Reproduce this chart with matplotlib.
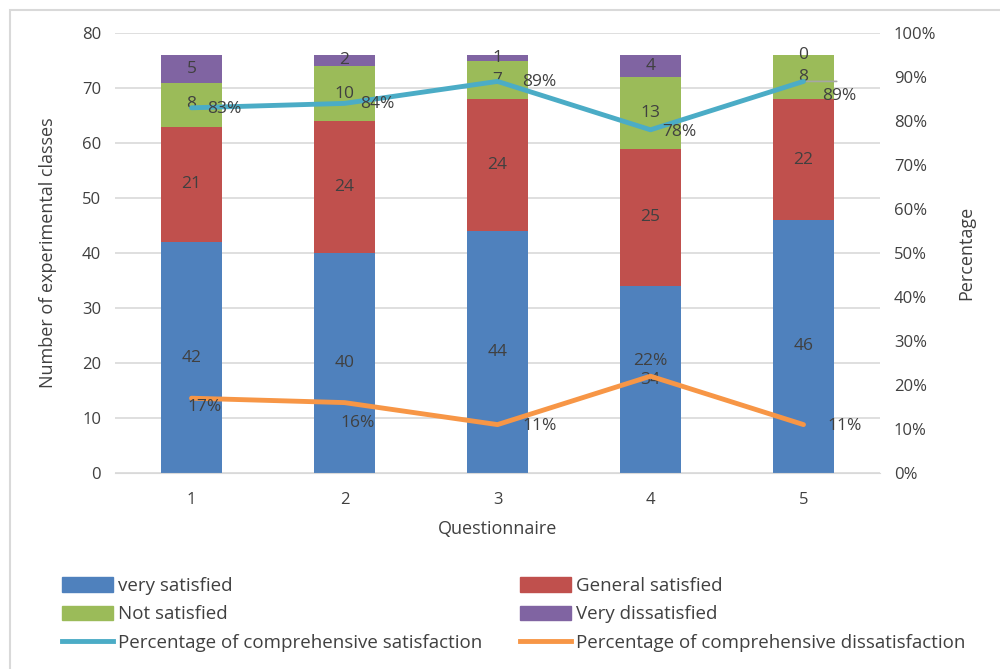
import matplotlib
matplotlib.use("Agg")
import matplotlib.pyplot as plt
from matplotlib.patches import Rectangle
from matplotlib.lines import Line2D
from matplotlib.ticker import FuncFormatter

plt.rcParams['font.family'] = ['Open Sans', 'DejaVu Sans']

questionnaires = ["1", "2", "3", "4", "5"]
very_satisfied = [42, 40, 44, 34, 46]
general_satisfied = [21, 24, 24, 25, 22]
not_satisfied = [8, 10, 7, 13, 8]
very_dissatisfied = [5, 2, 1, 4, 0]
pct_satisfaction = [83, 84, 89, 78, 89]
pct_dissatisfaction = [17, 16, 11, 22, 11]

left_ticks = [0, 10, 20, 30, 40, 50, 60, 70, 80]
right_ticks = [0, 10, 20, 30, 40, 50, 60, 70, 80, 90, 100]

C_BLUE = "#4F81BD"
C_RED = "#C0504D"
C_GREEN = "#9BBB59"
C_PURPLE = "#8064A2"
C_CYAN = "#4BACC6"
C_ORANGE = "#F79646"
TXT = "#404040"

fig = plt.figure(figsize=(10, 6.69), dpi=100)
ax = fig.add_axes([0.115, 1 - 473 / 669, 0.765, 440 / 669])
ax2 = ax.twinx()

x = list(range(1, len(questionnaires) + 1))
w = 0.4
series = [(very_satisfied, C_BLUE, "very satisfied"),
          (general_satisfied, C_RED, "General satisfied"),
          (not_satisfied, C_GREEN, "Not satisfied"),
          (very_dissatisfied, C_PURPLE, "Very dissatisfied")]
bottom = [0] * len(x)
for vals, col, lab in series:
    ax.bar(x, vals, w, bottom=bottom, color=col, label=lab, zorder=2)
    for xi, b, v in zip(x, bottom, vals):
        ax.text(xi, b + v / 2, str(v), ha="center", va="center", fontsize=12.5, color=TXT, zorder=5)
    bottom = [b + v for b, v in zip(bottom, vals)]

ax.set_xlim(0.5, 5.5)
ax.set_ylim(0, 80)
ax.set_yticks(left_ticks)
ax.set_xticks(x)
ax.set_xticklabels(questionnaires)
ax.grid(axis="y", color="#D9D9D9", linewidth=1.2, zorder=0)
ax.set_axisbelow(True)
for s in ["top", "right", "left"]:
    ax.spines[s].set_visible(False)
ax.spines["bottom"].set_color("#D9D9D9")
ax.tick_params(axis="both", length=0, labelsize=12, colors=TXT, pad=10)
ax.tick_params(axis="x", pad=14)
ax.set_ylabel("Number of experimental classes", fontsize=13, color=TXT, labelpad=18)
ax.set_xlabel("Questionnaire", fontsize=13, color=TXT, labelpad=8)

ax2.set_ylim(0, 100)
ax2.set_yticks(right_ticks)
ax2.yaxis.set_major_formatter(FuncFormatter(lambda v, p: f"{int(v)}%"))
for s in ["top", "right", "left", "bottom"]:
    ax2.spines[s].set_visible(False)
ax2.tick_params(axis="y", length=0, labelsize=12, colors=TXT, pad=10)
ax2.set_ylabel("Percentage", fontsize=13, color=TXT, labelpad=15)

ax2.plot(x, pct_satisfaction, color=C_CYAN, linewidth=3.5, zorder=4, solid_capstyle="round")
ax2.plot(x, pct_dissatisfaction, color=C_ORANGE, linewidth=3.5, zorder=4, solid_capstyle="round")

sat_offsets = [(33, -1), (33, -1), (42, -1), (29, -2), (36, -15)]
dis_offsets = [(13, -9), (13, -20), (42, -1), (0, 15), (41, -1)]
for xi, v, (dx, dy) in zip(x, pct_satisfaction, sat_offsets):
    ax2.annotate(f"{v}%", (xi, v), xytext=(dx, dy), textcoords="offset pixels",
                 ha="center", va="center", fontsize=12.5, color=TXT, zorder=6)
for xi, v, (dx, dy) in zip(x, pct_dissatisfaction, dis_offsets):
    ax2.annotate(f"{v}%", (xi, v), xytext=(dx, dy), textcoords="offset pixels",
                 ha="center", va="center", fontsize=12.5, color=TXT, zorder=6)
# leader line for last satisfaction label
ax2.annotate("", (x[-1], pct_satisfaction[-1]), xytext=(36, 0), textcoords="offset pixels",
             arrowprops=dict(arrowstyle="-", color="#A6A6A6", lw=1.2))

handles = [Rectangle((0, 0), 1, 1, color=C_BLUE), Rectangle((0, 0), 1, 1, color=C_GREEN),
           Line2D([], [], color=C_CYAN, lw=3.5),
           Rectangle((0, 0), 1, 1, color=C_RED), Rectangle((0, 0), 1, 1, color=C_PURPLE),
           Line2D([], [], color=C_ORANGE, lw=3.5)]
labels = ["very satisfied", "Not satisfied", "Percentage of comprehensive satisfaction",
          "General satisfied", "Very dissatisfied", "Percentage of comprehensive dissatisfaction"]
fig.legend(handles, labels, ncol=2, loc="upper left", bbox_to_anchor=(0.0545, 0.1485),
           frameon=False, fontsize=13.5, labelcolor=TXT, handlelength=2.7, handleheight=0.8,
           handletextpad=0.3, columnspacing=2.0, labelspacing=0.55, borderaxespad=0)

fig.add_artist(Rectangle((0.01, -0.1), 1.2, 0.1 + 1 - 10 / 669, transform=fig.transFigure,
                         fill=False, edgecolor="#D9D9D9", linewidth=1.5))

fig.savefig("out.png", dpi=100)
